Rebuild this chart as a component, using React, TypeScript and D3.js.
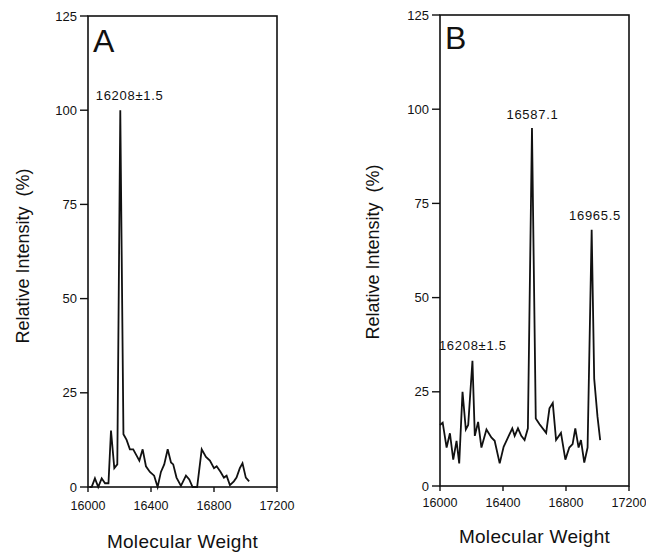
import React from "react";
import * as d3 from "d3";

const massA = [16010, 16023, 16044, 16065, 16087, 16108, 16130, 16146, 16167, 16186, 16205, 16225, 16245, 16266, 16287, 16313, 16326, 16347, 16368, 16393, 16420, 16442, 16463, 16484, 16506, 16527, 16541, 16562, 16590, 16622, 16643, 16664, 16693, 16722, 16749, 16774, 16800, 16817, 16842, 16863, 16880, 16901, 16926, 16943, 16964, 16981, 17002, 17023];
const intensityA = [0, 0, 2.3, 0, 2.3, 1, 1, 15, 5, 6, 100, 14, 12.5, 10, 10, 8, 7, 10, 5.5, 4, 3, 0, 4, 6, 10, 6.5, 6, 2.5, 0.3, 3, 2, 0, 0, 10, 8, 7, 5, 5.5, 4, 2.5, 3, 0.5, 1.5, 2.5, 5, 6.3, 2.5, 1.5];

const massB = [16000, 16017, 16042, 16063, 16084, 16105, 16122, 16143, 16164, 16179, 16206, 16221, 16242, 16263, 16295, 16326, 16347, 16379, 16404, 16432, 16459, 16474, 16495, 16516, 16537, 16558, 16584, 16608, 16632, 16674, 16695, 16716, 16737, 16768, 16796, 16821, 16842, 16859, 16880, 16895, 16916, 16937, 16963, 16979, 17000, 17017];
const intensityB = [16.2, 16.8, 10.2, 14, 7, 12, 6, 25, 15, 16.2, 33.2, 13.3, 17, 10.2, 15, 12.9, 12, 6, 10.4, 12.9, 15.3, 13.3, 15.3, 13.3, 12.2, 15.3, 95, 17.9, 16.4, 14.1, 20.6, 22, 12.2, 14.1, 7, 10.2, 11.1, 15.3, 10.2, 12.2, 6.2, 10.2, 68, 28.5, 18.4, 12.2];

const xTicks = [16000, 16400, 16800, 17200];
const yTicks = [0, 25, 50, 75, 100, 125];

const annotationsA = [{ text: "16208±1.5", mass: 16208, value: 100 }];
const annotationsB = [
  { text: "16587.1", mass: 16587, value: 95 },
  { text: "16965.5", mass: 16965, value: 68 },
  { text: "16208±1.5", mass: 16208, value: 33 },
];

const FONT = "'Liberation Sans', Arial, Helvetica, sans-serif";

type Ann = { text: string; mass: number; value: number };

function Panel(props: {
  label: string;
  mass: number[];
  intensity: number[];
  anns: Ann[];
  annPos: { dx: number; y: number; anchor: string }[];
  left: number;
  right: number;
  top: number;
  bottom: number;
  tickLabelY: number;
  titleY: number;
  yTitleX: number;
  yTitleY: number;
  panelLabelY: number;
}) {
  const x = d3.scaleLinear().domain([16000, 17200]).range([props.left, props.right]);
  const y = d3.scaleLinear().domain([0, 125]).range([props.bottom, props.top]);
  const pts: [number, number][] = props.mass.map((m, i) => [m, props.intensity[i]]);
  const line = d3
    .line<[number, number]>()
    .x((d) => x(d[0]))
    .y((d) => y(d[1]));
  return (
    <g fontFamily={FONT} fill="#111">
      <path d={line(pts) || ""} fill="none" stroke="#111" strokeWidth={1.8} strokeLinejoin="miter" />
      <rect
        x={props.left}
        y={props.top}
        width={props.right - props.left}
        height={props.bottom - props.top}
        fill="none"
        stroke="#111"
        strokeWidth={1.6}
      />
      {yTicks.map((t) => (
        <g key={"y" + t}>
          <line x1={props.left - 8} x2={props.left} y1={y(t)} y2={y(t)} stroke="#111" strokeWidth={1.4} />
          <text x={props.left - 11} y={y(t) + 4.5} textAnchor="end" fontSize={13}>
            {t}
          </text>
        </g>
      ))}
      {xTicks.map((t) => (
        <g key={"x" + t}>
          <line x1={x(t)} x2={x(t)} y1={props.bottom} y2={props.bottom + 5} stroke="#111" strokeWidth={1.4} />
          <text x={x(t)} y={props.tickLabelY} textAnchor="middle" fontSize={12.5}>
            {t}
          </text>
        </g>
      ))}
      <text x={props.left + 5} y={props.panelLabelY} fontSize={32}>
        {props.label}
      </text>
      {props.anns.map((a, i) => (
        <text
          key={a.text + i}
          x={x(a.mass) + props.annPos[i].dx}
          y={props.annPos[i].y}
          textAnchor={props.annPos[i].anchor as any}
          fontSize={13}
          letterSpacing={0.7}
        >
          {a.text}
        </text>
      ))}
      <text
        x={(props.left + props.right) / 2}
        y={props.titleY}
        textAnchor="middle"
        fontSize={19}
        letterSpacing={0.3}
      >
        Molecular Weight
      </text>
      <text
        transform={`translate(${props.yTitleX},${props.yTitleY}) rotate(-90)`}
        textAnchor="middle"
        fontSize={18}
      >
        {"Relative Intensity\u00a0\u00a0(%)"}
      </text>
    </g>
  );
}

export default function App() {
  return (
    <svg
      width={646}
      height={554}
      style={{ position: "absolute", left: 0, top: 0, background: "#fff" }}
    >
      <rect width={646} height={554} fill="#fff" />
      <Panel
        label="A"
        mass={massA}
        intensity={intensityA}
        anns={annotationsA}
        annPos={[{ dx: -25, y: 100, anchor: "start" }]}
        left={88}
        right={277}
        top={16}
        bottom={487}
        tickLabelY={510}
        titleY={548}
        yTitleX={29}
        yTitleY={256}
        panelLabelY={52}
      />
      <Panel
        label="B"
        mass={massB}
        intensity={intensityB}
        anns={annotationsB}
        annPos={[
          { dx: 0, y: 119, anchor: "middle" },
          { dx: 3, y: 220, anchor: "middle" },
          { dx: 0, y: 350, anchor: "middle" },
        ]}
        left={440}
        right={629}
        top={15}
        bottom={486}
        tickLabelY={507}
        titleY={543}
        yTitleX={379}
        yTitleY={252}
        panelLabelY={49}
      />
    </svg>
  );
}
